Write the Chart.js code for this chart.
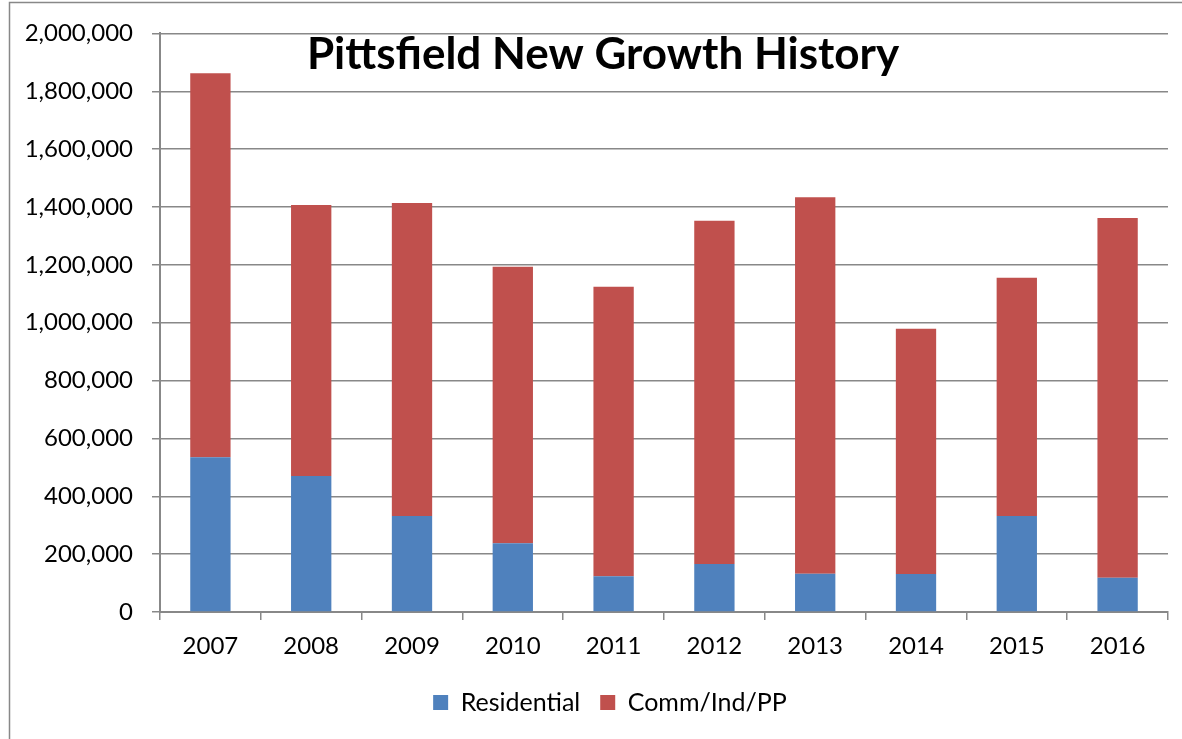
<!DOCTYPE html>
<html>
<head>
<meta charset="utf-8">
<script src="https://cdn.jsdelivr.net/npm/chart.js@4"></script>
<style>
  html, body { margin: 0; padding: 0; background: #fff; }
  #wrap { width: 1182px; height: 739px; position: relative; }
</style>
</head>
<body>
<div id="wrap"><canvas id="growthChart"></canvas></div>
<script>
const years = ['2007', '2008', '2009', '2010', '2011', '2012', '2013', '2014', '2015', '2016'];
const residential = [535000, 470000, 332000, 238000, 124000, 166000, 132000, 131000, 332000, 118000];
const commIndPP = [1327000, 937000, 1082000, 955000, 1000000, 1186000, 1302000, 848000, 823000, 1244000];
const chartTitle = 'Pittsfield New Growth History';

const gridGray = '#888888';
const fontFamily = 'Lato, "Open Sans", sans-serif';

// outer frame + title drawn over the plot area
const framePlugin = {
    id: 'frame',
    afterLayout(chart) {
        // legend sits a bit right of the canvas centre in the original
        chart.legend.left += 26;
        chart.legend.right += 26;
    },
    beforeDraw(chart) {
        const ctx = chart.ctx;
        ctx.save();
        ctx.fillStyle = '#ffffff';
        ctx.fillRect(0, 0, chart.width, chart.height);
        ctx.strokeStyle = gridGray;
        ctx.lineWidth = 1.5;
        ctx.strokeRect(9.5, 2.5, 1300, 900);
        ctx.restore();
    },
    afterDraw(chart) {
        const ctx = chart.ctx;
        ctx.save();
        ctx.font = 'bold 44px ' + fontFamily;
        ctx.fillStyle = '#000';
        ctx.textAlign = 'center';
        ctx.textBaseline = 'middle';
        ctx.fillText(chartTitle, 603, 55);
        ctx.restore();
    }
};

const growthElem = document.getElementById('growthChart').getContext('2d');

const growthData = {
    labels: years,
    datasets: [{
        label: 'Residential',
        data: residential,
        backgroundColor: '#4F81BD',
        barPercentage: 0.4,
        categoryPercentage: 1.0,
    }, {
        label: 'Comm/Ind/PP',
        data: commIndPP,
        backgroundColor: '#C0504D',
        barPercentage: 0.4,
        categoryPercentage: 1.0,
    }],
};

const growthConfig = {
    type: 'bar',
    data: growthData,
    plugins: [framePlugin],
    options: {
        responsive: true,
        maintainAspectRatio: false,
        animation: false,
        layout: {
            padding: { top: 28, right: 14, bottom: 14, left: 0 },
        },
        scales: {
            x: {
                stacked: true,
                afterFit(scale) { scale.height = 58; },
                grid: {
                    offset: true,
                    drawOnChartArea: false,
                    drawTicks: true,
                    tickLength: 8,
                    color: gridGray,
                    lineWidth: 1.5,
                },
                border: { display: true, color: gridGray, width: 2 },
                ticks: {
                    color: '#000',
                    padding: 12,
                    font: { family: fontFamily, size: 24 },
                },
            },
            y: {
                stacked: true,
                min: 0,
                max: 2000000,
                afterFit(scale) { scale.width = 160; },
                grid: {
                    color: gridGray,
                    lineWidth: 1.5,
                    tickLength: 8,
                },
                border: { display: true, color: gridGray, width: 2 },
                ticks: {
                    stepSize: 200000,
                    color: '#000',
                    padding: 19,
                    font: { family: fontFamily, size: 24 },
                    callback: (v) => v.toLocaleString('en-US'),
                },
            },
        },
        plugins: {
            legend: {
                position: 'bottom',
                labels: {
                    boxWidth: 15,
                    boxHeight: 15,
                    padding: 20,
                    color: '#000',
                    font: { family: fontFamily, size: 25 },
                },
            },
            tooltip: { enabled: false },
        },
    },
};

const growthChart = new Chart(growthElem, growthConfig);
</script>
</body>
</html>
